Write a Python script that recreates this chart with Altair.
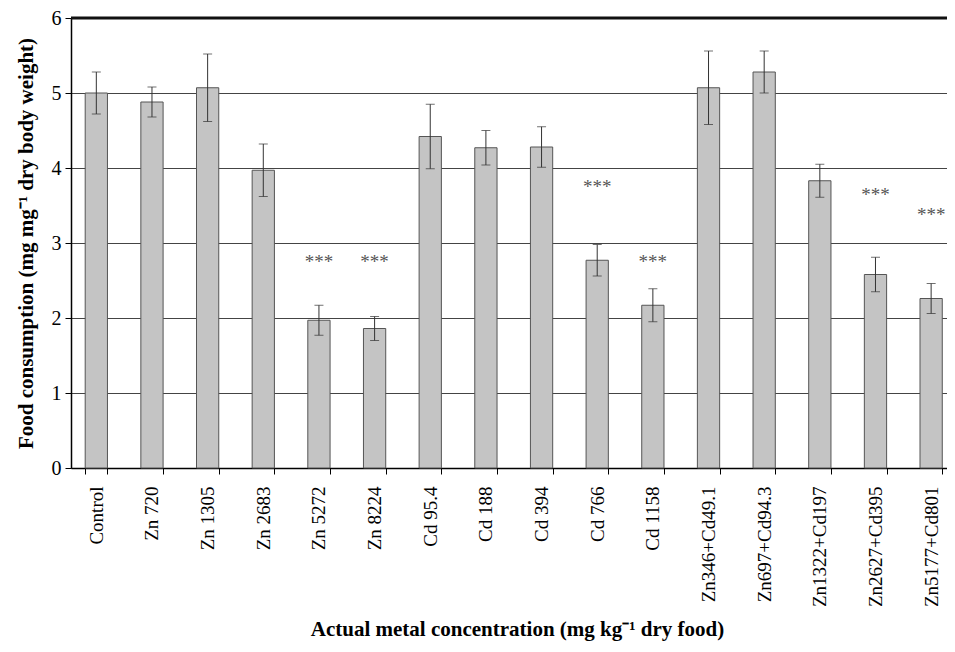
import altair as alt
import pandas as pd

categories = ["Control", "Zn 720", "Zn 1305", "Zn 2683", "Zn 5272", "Zn 8224",
              "Cd 95.4", "Cd 188", "Cd 394", "Cd 766", "Cd 1158",
              "Zn346+Cd49.1", "Zn697+Cd94.3", "Zn1322+Cd197", "Zn2627+Cd395", "Zn5177+Cd801"]
means = [5.00, 4.88, 5.07, 3.97, 1.97, 1.86, 4.42, 4.27, 4.28, 2.77, 2.17, 5.07, 5.28, 3.83, 2.58, 2.26]
errors = [0.28, 0.20, 0.45, 0.35, 0.20, 0.16, 0.43, 0.23, 0.27, 0.21, 0.22, 0.49, 0.28, 0.22, 0.23, 0.20]

sig_categories = ["Zn 5272", "Zn 8224", "Cd 766", "Cd 1158", "Zn2627+Cd395", "Zn5177+Cd801"]
sig_y = [2.80, 2.80, 3.80, 2.80, 3.69, 3.43]

df = pd.DataFrame({"cat": categories, "mean": means, "err": errors})
df["lo"] = df["mean"] - df["err"]
df["hi"] = df["mean"] + df["err"]
sig = pd.DataFrame({"cat": sig_categories, "y": sig_y, "t": ["***"] * len(sig_y)})
top = pd.DataFrame({"y": [6]})

FONT = "Liberation Serif"

x = alt.X("cat:N", sort=categories,
          scale=alt.Scale(paddingInner=0.6, paddingOuter=0.17, align=0.75),
          axis=alt.Axis(title="Actual metal concentration (mg kg\u207b\u00b9 dry food)",
                        labelAngle=-90, labelFontSize=19, labelFont=FONT, labelColor="black",
                        labelPadding=12, tickBand="extent", tickColor="black", tickSize=6,
                        domainColor="black", domainWidth=1.5,
                        titleFont=FONT, titleFontSize=21, titleFontWeight="bold",
                        titleColor="black", titlePadding=12, titleX=446))

y_axis = alt.Axis(title="Food consumption (mg mg\u207b\u00b9 dry body weight)", values=[0, 1, 2, 3, 4, 5, 6],
                  format="d", grid=True, gridColor="#444", gridWidth=1, domainColor="black",
                  domainWidth=1.5, tickColor="black", tickSize=6, labelFont=FONT, labelFontSize=20,
                  labelColor="black", labelPadding=4, titleFont=FONT, titleFontSize=21,
                  titleFontWeight="bold", titleColor="black", titlePadding=15)

base = alt.Chart(df)
bars = base.mark_bar(color="#c4c4c4", stroke="#555", strokeWidth=1).encode(
    x=x, y=alt.Y("mean:Q", scale=alt.Scale(domain=[0, 6], nice=False), axis=y_axis))
rules = base.mark_rule(color="#333", strokeWidth=1).encode(
    x=alt.X("cat:N", sort=categories), y="lo:Q", y2="hi:Q")
cap_hi = base.mark_tick(color="#333", thickness=1, size=9).encode(
    x=alt.X("cat:N", sort=categories), y="hi:Q")
cap_lo = base.mark_tick(color="#333", thickness=1, size=9).encode(
    x=alt.X("cat:N", sort=categories), y="lo:Q")
stars = alt.Chart(sig).mark_text(font=FONT, fontSize=19, color="#555", baseline="middle", dy=4).encode(
    x=alt.X("cat:N", sort=categories), y="y:Q", text="t:N")
topline = alt.Chart(top).mark_rule(color="#111", strokeWidth=3).encode(y="y:Q")

chart = alt.layer(bars, rules, cap_hi, cap_lo, stars, topline).properties(
    width=876, height=450,
    autosize=alt.AutoSizeParams(type="none"),
    padding={"left": 63, "top": 10, "right": 0, "bottom": 176},
).configure_view(stroke=None).configure(background="white")

chart.save("out.html", embed_options={"renderer": "svg", "actions": False})
